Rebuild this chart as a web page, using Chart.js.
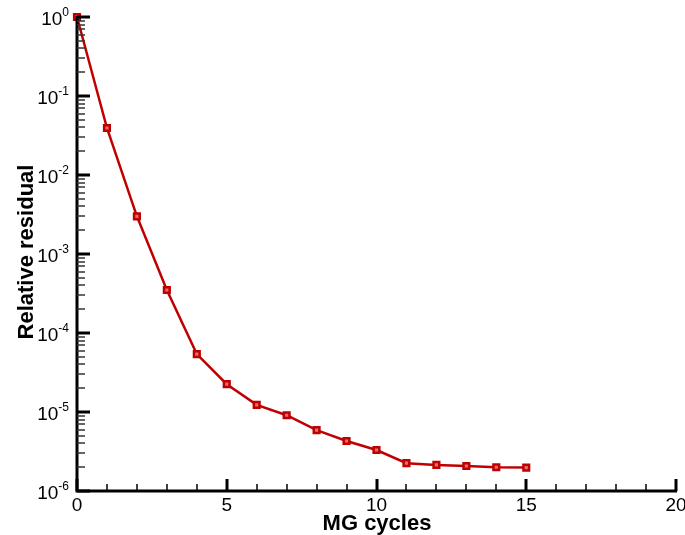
<!DOCTYPE html>
<html>
<head>
<meta charset="utf-8">
<script src="https://cdn.jsdelivr.net/npm/chart.js@4/dist/chart.umd.min.js"></script>
<style>
  html, body { margin: 0; padding: 0; background: #fff; }
  #wrap { width: 685px; height: 535px; position: relative; }
</style>
</head>
<body>
<div id="wrap"><canvas id="residual-chart"></canvas></div>
<script>
// MG convergence history
const cycles = [0, 1, 2, 3, 4, 5, 6, 7, 8, 9, 10, 11, 12, 13, 14, 15];
const residuals = [1.0, 0.0394, 0.0030, 3.5e-4, 5.4e-5, 2.25e-5, 1.23e-5, 9.1e-6,
  5.9e-6, 4.3e-6, 3.3e-6, 2.25e-6, 2.14e-6, 2.07e-6, 2.0e-6, 1.98e-6];
const xMajorTicks = [0, 5, 10, 15, 20];
const yDecades = [0, -1, -2, -3, -4, -5, -6];

const FONT = 'Arial, "Liberation Sans", Helvetica, sans-serif';

// draws inward ticks, tick labels with superscripts and axis titles
const axesPlugin = {
  id: 'tecplotAxes',
  afterDraw(chart) {
    const ctx = chart.ctx;
    const xs = chart.scales.x;
    const ys = chart.scales.y;
    const area = chart.chartArea;
    ctx.save();
    ctx.strokeStyle = '#000';
    ctx.fillStyle = '#000';

    // axis lines
    ctx.lineWidth = 3;
    ctx.beginPath();
    ctx.moveTo(area.left, area.top - 1);
    ctx.lineTo(area.left, area.bottom);
    ctx.lineTo(area.right + 1, area.bottom);
    ctx.stroke();

    // x ticks
    for (let v = 0; v <= 20; v++) {
      const px = Math.round(xs.getPixelForValue(v));
      const major = v % 5 === 0;
      ctx.lineWidth = major ? 3 : 1.5;
      ctx.beginPath();
      ctx.moveTo(px, area.bottom);
      ctx.lineTo(px, area.bottom - (major ? 12 : 7));
      ctx.stroke();
    }
    // y ticks
    yDecades.forEach(d => {
      const py = Math.round(ys.getPixelForValue(Math.pow(10, d)));
      ctx.lineWidth = 3;
      ctx.beginPath();
      ctx.moveTo(area.left, py);
      ctx.lineTo(area.left + 13, py);
      ctx.stroke();
      if (d > -6) {
        for (let m = 2; m <= 9; m++) {
          const pm = Math.round(ys.getPixelForValue(m * Math.pow(10, d - 1)));
          ctx.lineWidth = 1.5;
          ctx.strokeStyle = '#333';
          ctx.beginPath();
          ctx.moveTo(area.left, pm);
          ctx.lineTo(area.left + 8, pm);
          ctx.stroke();
          ctx.strokeStyle = '#000';
        }
      }
    });

    // x labels
    ctx.font = '19px ' + FONT;
    ctx.textAlign = 'center';
    ctx.textBaseline = 'alphabetic';
    xMajorTicks.forEach(v => {
      ctx.fillText(String(v), xs.getPixelForValue(v), area.bottom + 20);
    });

    // y labels: 10 with superscript exponent
    yDecades.forEach(d => {
      const py = ys.getPixelForValue(Math.pow(10, d));
      const exp = String(d);
      ctx.font = '12px ' + FONT;
      const ew = ctx.measureText(exp).width;
      ctx.textAlign = 'right';
      ctx.fillText(exp, area.left - 8, py - 1);
      ctx.font = '19px ' + FONT;
      ctx.fillText('10', area.left - 8 - ew, py + 8);
    });

    // axis titles
    ctx.font = 'bold 22px ' + FONT;
    ctx.textAlign = 'center';
    ctx.fillText('MG cycles', 377, 530);
    ctx.save();
    ctx.translate(33, 252);
    ctx.rotate(-Math.PI / 2);
    ctx.fillText('Relative residual', 0, 0);
    ctx.restore();

    ctx.restore();
  }
};

new Chart(document.getElementById('residual-chart'), {
  type: 'line',
  data: {
    labels: cycles,
    datasets: [{
      data: cycles.map((c, i) => ({ x: c, y: residuals[i] })),
      borderColor: '#c00000',
      borderWidth: 2.5,
      pointStyle: 'rect',
      pointRadius: 4,
      pointBorderWidth: 2.5,
      pointBackgroundColor: '#e07070',
      pointBorderColor: '#c00000',
      tension: 0,
      clip: false
    }]
  },
  options: {
    responsive: true,
    maintainAspectRatio: false,
    animation: false,
    layout: { padding: { top: 17, right: 9, left: 0, bottom: 0 } },
    plugins: { legend: { display: false }, tooltip: { enabled: false } },
    scales: {
      x: {
        type: 'linear',
        min: 0,
        max: 20,
        grid: { display: false },
        border: { display: false },
        ticks: { display: false },
        afterFit(scale) { scale.height = 44; }
      },
      y: {
        type: 'logarithmic',
        min: 1e-6,
        max: 1,
        grid: { display: false },
        border: { display: false },
        ticks: { display: false },
        afterFit(scale) { scale.width = 77; }
      }
    }
  },
  plugins: [axesPlugin]
});
</script>
</body>
</html>
